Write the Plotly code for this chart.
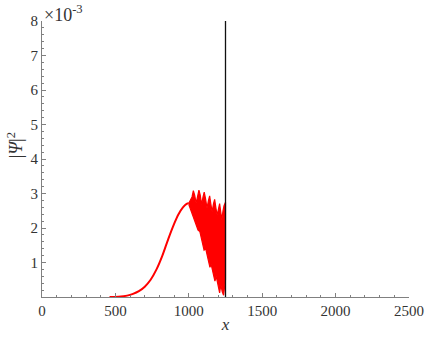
import plotly.graph_objects as go

# values in units of 1e-3
x_rise = [460, 520, 580, 620, 660, 700, 740, 780, 820, 860, 900, 930, 960, 985, 1000]
y_rise = [0.0, 0.01, 0.04, 0.09, 0.17, 0.3, 0.5, 0.8, 1.2, 1.68, 2.12, 2.4, 2.6, 2.7, 2.72]

# upper edge of the fast oscillation
x_top = [1000, 1010, 1022, 1031, 1040, 1050, 1060, 1069, 1078, 1087, 1097, 1105,
         1114, 1124, 1134, 1142, 1150, 1159, 1168, 1176, 1184, 1193, 1202, 1210,
         1218, 1225, 1233, 1240, 1250]
y_top = [2.72, 2.8, 2.9, 3.08, 2.95, 2.72, 2.98, 3.10, 2.95, 2.68, 2.9, 3.04,
         2.85, 2.58, 2.8, 2.93, 2.7, 2.47, 2.7, 2.83, 2.6, 2.37, 2.55, 2.71,
         2.45, 2.25, 2.5, 2.65, 2.75]

# lower edge of the fast oscillation
x_bottom = [1000, 1015, 1030, 1045, 1063, 1075, 1090, 1104, 1115, 1132, 1144, 1152,
            1168, 1178, 1187, 1200, 1210, 1218, 1228, 1237, 1244, 1250]
y_bottom = [2.68, 2.55, 2.35, 2.15, 1.94, 1.9, 1.6, 1.36, 1.4, 1.1, 0.86, 0.95,
            0.65, 0.46, 0.6, 0.3, 0.12, 0.35, 0.15, 0.05, 0.3, 0.5]

wall_x = [1250, 1250]
wall_y = [0, 8]

x_ticks = [0, 500, 1000, 1500, 2000, 2500]
y_ticks = [1, 2, 3, 4, 5, 6, 7, 8]

RED = "#ff0000"
AXIS = "#808080"
TEXT = "#333333"
FONT = "Liberation Serif, Times New Roman, serif"

fig = go.Figure()
fig.add_trace(go.Scatter(x=x_rise, y=y_rise, mode="lines", line_shape="spline",
                         line=dict(color=RED, width=2), hoverinfo="skip"))
fig.add_trace(go.Scatter(x=x_top + x_bottom[::-1], y=y_top + y_bottom[::-1],
                         mode="lines", fill="toself", fillcolor=RED,
                         line=dict(color=RED, width=1.2), hoverinfo="skip"))
fig.add_trace(go.Scatter(x=wall_x, y=wall_y, mode="lines",
                         line=dict(color="#111111", width=1.3), hoverinfo="skip"))

fig.update_layout(
    width=436, height=337,
    margin=dict(l=42, r=27, t=21, b=40),
    paper_bgcolor="white", plot_bgcolor="white",
    showlegend=False,
    font=dict(family=FONT, size=15, color=TEXT),
)
fig.update_xaxes(
    range=[0, 2500], tickvals=x_ticks, showgrid=False, zeroline=False,
    automargin=False,
    showline=True, linecolor=AXIS, linewidth=1,
    ticks="inside", ticklen=4, tickcolor=AXIS,
    minor=dict(ticks="inside", dtick=100, ticklen=2, tickcolor=AXIS),
    title=dict(text="<i>x</i>", font=dict(family=FONT, size=17), standoff=0),
)
fig.update_yaxes(
    range=[0, 8], tickvals=y_ticks, showgrid=False, zeroline=False,
    automargin=False,
    showline=True, linecolor=AXIS, linewidth=1,
    ticks="inside", ticklen=4, tickcolor=AXIS,
    minor=dict(ticks="inside", dtick=0.2, ticklen=2, tickcolor=AXIS),
)
fig.add_annotation(text="×10<sup>-3</sup>", xref="paper", yref="paper",
                   x=0, y=1, xanchor="left", yanchor="bottom", showarrow=False,
                   font=dict(family=FONT, size=18, color=TEXT), xshift=0, yshift=-6)
fig.add_annotation(text="|<i>Ψ</i>|<sup>2</sup>", xref="paper", yref="paper",
                   x=0, y=0.55, xanchor="center", yanchor="middle", showarrow=False,
                   textangle=-90, font=dict(family=FONT, size=18, color=TEXT),
                   xshift=-27)

# page has a default 8px body margin; drop it so the figure fills the window
fig.write_html("out.html", config={"displayModeBar": False},
               post_script="document.body.style.margin='0';document.body.style.overflow='hidden';")
